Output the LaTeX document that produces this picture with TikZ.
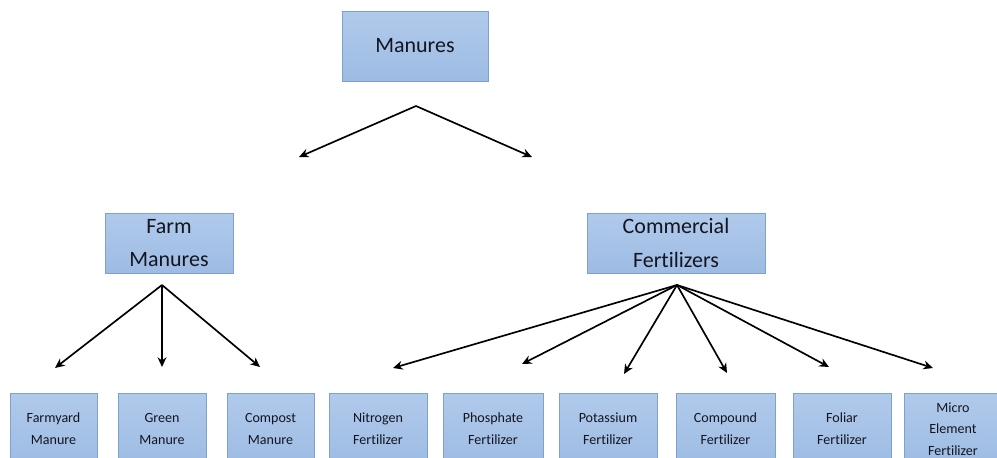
\documentclass[tikz,border=0pt]{standalone}
\usepackage{fontspec}
\setmainfont[RawFeature={-liga;-clig}]{Carlito}
\usetikzlibrary{arrows.meta}
\definecolor{boxtop}{HTML}{B0CAEB}
\definecolor{boxbot}{HTML}{9DBBE3}
\definecolor{boxline}{HTML}{7EA2CE}
\definecolor{boxtext}{HTML}{151522}
\begin{document}
\begin{tikzpicture}[x=0.02cm, y=-0.02cm,
    box/.style 2 args={draw=boxline, line width=0.5pt, top color=boxtop,
      bottom color=boxbot, text=boxtext, align=center, inner sep=0pt,
      minimum width=#1*0.02cm, minimum height=#2*0.02cm},
    bigtext/.style={font=\fontsize{12.5}{19}\selectfont},
    smalltext/.style={font=\fontsize{8}{12.4}\selectfont},
    link/.style={line width=0.95pt, -{Stealth[length=5.5pt, width=5pt]}}]
  \useasboundingbox (0, 0) rectangle (997, 457);
  \clip (0, 0) rectangle (997, 457);
  \node[box={146}{70}, bigtext] (manures) at (415, 46) {Manures};
  \node[box={128}{60}, bigtext] (farm) at (169, 243) {Farm\\Manures};
  \node[box={178}{60}, bigtext] (commercial) at (676, 243)
    {Commercial\\Fertilizers};
  \node[box={87}{72}, smalltext] (farmyard) at (53.5, 429) {Farmyard\\Manure};
  \node[box={88}{72}, smalltext] (green) at (162, 429) {Green\\Manure};
  \node[box={87}{72}, smalltext] (compost) at (270.5, 429) {Compost\\Manure};
  \node[box={98}{72}, smalltext] (nitrogen) at (378, 429) {Nitrogen\\Fertilizer};
  \node[box={100}{72}, smalltext] (phosphate) at (493, 429)
    {Phosphate\\Fertilizer};
  \node[box={98}{72}, smalltext] (potassium) at (608, 429)
    {Potassium\\Fertilizer};
  \node[box={99}{72}, smalltext] (compound) at (725.5, 429)
    {Compound\\Fertilizer};
  \node[box={98}{72}, smalltext] (foliar) at (842, 429) {Foliar\\Fertilizer};
  \node[box={98}{72}, smalltext] (micro) at (953, 429)
    {Micro\\Element\\Fertilizer};
  \coordinate (mapex) at (416, 106);
  \coordinate (mleft) at (299, 157);
  \coordinate (mright) at (532, 157);
  \coordinate (fapex) at (162, 285);
  \coordinate (capex) at (677, 285);
  \coordinate (farmyardtip) at (55, 368);
  \coordinate (greentip) at (162, 367);
  \coordinate (composttip) at (260, 367);
  \coordinate (nitrogentip) at (393, 368);
  \coordinate (phosphatetip) at (522, 364);
  \coordinate (potassiumtip) at (624, 374);
  \coordinate (compoundtip) at (727, 373);
  \coordinate (foliartip) at (829, 367);
  \coordinate (microtip) at (933, 368);
  \draw[link] (mapex) -- (mleft);
  \draw[link] (mapex) -- (mright);
  \draw[link] (fapex) -- (farmyardtip);
  \draw[link] (fapex) -- (greentip);
  \draw[link] (fapex) -- (composttip);
  \draw[link] (capex) -- (nitrogentip);
  \draw[link] (capex) -- (phosphatetip);
  \draw[link] (capex) -- (potassiumtip);
  \draw[link] (capex) -- (compoundtip);
  \draw[link] (capex) -- (foliartip);
  \draw[link] (capex) -- (microtip);
\end{tikzpicture}
\end{document}
